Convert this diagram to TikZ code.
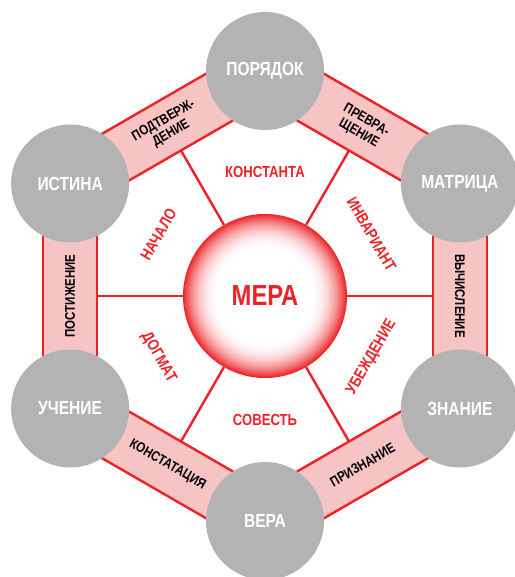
\documentclass[tikz,border=0pt]{standalone}
\usepackage{fontspec}
\setmainfont{Liberation Sans}[FakeStretch=0.82]
\usetikzlibrary{calc}
\definecolor{mred}{HTML}{EC2227}
\definecolor{mpink}{HTML}{F7C4C4}
\definecolor{mgrey}{HTML}{B3B3B3}
\tikzset{
  vert/.style={circle, fill=mgrey, minimum size=118, inner sep=0pt, text=white,
    font=\bfseries\fontsize{19}{20}\selectfont},
  hub/.style={circle, minimum size=164, inner sep=0pt},
  hublabel/.style={text=mred, inner sep=0pt, font=\bfseries\fontsize{29}{30}\selectfont},
  spoke/.style={draw=mred, line width=2.4pt},
  bandline/.style={draw=mred, line width=2.4pt},
  sector/.style={text=mred, font=\bfseries\fontsize{16}{17}\selectfont, inner sep=1pt},
  bandlab/.style={text=black, font=\bfseries\fontsize{14}{15}\selectfont, align=center, inner sep=1pt},
}
\begin{document}
\begin{tikzpicture}[x=1pt,y=1pt]
\useasboundingbox (0,0) rectangle (514,577);
\coordinate (O) at (265,281);
% vertices
\foreach \i/\a in {0/90,1/30,2/-30,3/-90,4/-150,5/150}{
  \coordinate (v\i) at ($(O)+(\a:225)$);
}
% spoke ends
\foreach \i/\m in {0/0,1/60,2/120,3/180,4/240,5/300}{
  \coordinate (s\i) at ($(O)+(\m:168)$);
}
% hub outline (for connectors)
\node[hub] (hub) at (O) {};
\foreach \i in {0,...,5}{ \draw[spoke] (hub) -- (s\i); }
% bands
\foreach \a/\b in {90/30,30/-30,-30/-90,-90/-150,-150/-210,150/90}{
  \fill[mpink] ($(O)+(\a:194)$) -- ($(O)+(\b:194)$) -- ($(O)+(\b:256.3)$) -- ($(O)+(\a:256.3)$) -- cycle;
  \draw[bandline] ($(O)+(\a:194)$) -- ($(O)+(\b:194)$);
  \draw[bandline] ($(O)+(\a:256.3)$) -- ($(O)+(\b:256.3)$);
}
% grey vertex circles
\node[vert] (poryadok) at (v0) {ПОРЯДОК};
\node[vert] (matrica) at (v1) {МАТРИЦА};
\node[vert] (znanie) at (v2) {ЗНАНИЕ};
\node[vert] (vera) at (v3) {ВЕРА};
\node[vert] (uchenie) at (v4) {УЧЕНИЕ};
\node[vert] (istina) at (v5) {ИСТИНА};
% radial gradient of the hub
\foreach \r in {82,81.5,...,46}{
  \pgfmathsetmacro{\p}{100*((\r-46)/36)^2.2}
  \fill[mred!\p!white] (O) circle (\r);
}
\node[hublabel] (mera) at (O) {МЕРА};
% sector labels
\node[sector] (konst) at ($(O)+(90:124)$) {КОНСТАНТА};
\node[sector, rotate=-60] (invar) at ($(O)+(30:123)$) {ИНВАРИАНТ};
\node[sector, rotate=60] (ubezh) at ($(O)+(-30:123)$) {УБЕЖДЕНИЕ};
\node[sector] (sovest) at ($(O)+(-90:124)$) {СОВЕСТЬ};
\node[sector, rotate=-60] (dogmat) at ($(O)+(-150:123)$) {ДОГМАТ};
\node[sector, rotate=60] (nachalo) at ($(O)+(150:123)$) {НАЧАЛО};
% band labels
\node[bandlab, rotate=30] (podtv) at ($(O)+(120:195)$) {ПОДТВЕРЖ-\\ДЕНИЕ};
\node[bandlab, rotate=-30] (prevr) at ($(O)+(60:195)$) {ПРЕВРА-\\ЩЕНИЕ};
\node[bandlab, rotate=-90] (vych) at ($(O)+(0:195)$) {ВЫЧИСЛЕНИЕ};
\node[bandlab, rotate=30] (prizn) at ($(O)+(-60:195)$) {ПРИЗНАНИЕ};
\node[bandlab, rotate=-30] (konstat) at ($(O)+(-120:195)$) {КОНСТАТАЦИЯ};
\node[bandlab, rotate=90] (postizh) at ($(O)+(180:195)$) {ПОСТИЖЕНИЕ};
\end{tikzpicture}
\end{document}
